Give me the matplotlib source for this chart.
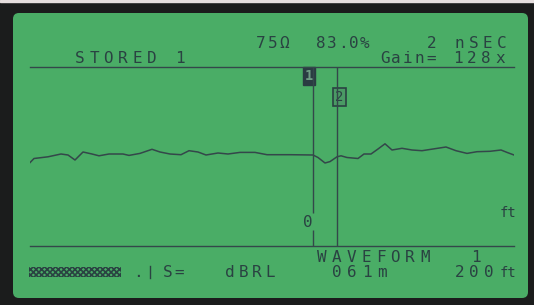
import matplotlib.pyplot as plt
from matplotlib.patches import Rectangle, FancyBboxPatch

# trace: sample position (px from left edge of grid) and level
trace_x = [0, 4, 18, 31, 38, 45, 53, 62, 69, 79, 93, 99, 110, 122, 130, 140, 151, 159,
           168, 176, 188, 198, 210, 225, 237, 260, 283, 288, 295, 300, 307, 311, 317,
           328, 334, 341, 348, 355, 362, 372, 382, 392, 403, 416, 426, 437, 447, 460,
           471, 477, 484]
trace_y = [-7.6, -3.5, -1.8, 1, 0, -5, 3, 1, -0.8, 1, 1, -0.4, 1.6, 5.7, 3, 1, 0.3, 4.3,
           3, 0, 2, 1, 2.6, 2.6, 0.3, 0.3, 0, -2.5, -8, -6.6, -1.8, -0.8, -2.5,
           -3.5, 1, 1, 6, 11.2, 5, 6.7, 5, 4.3, 6, 8, 4.3, 1.6, 3.3, 3.7, 5, 2.6, 0]
cursor_1 = 283
cursor_2 = 307

title_left = "STORED 1"
imp_text = "75Ω"
vop_text = "83.0%"
time_text = "2 nSEC"
gain_label = "Gain="
gain_value = "128x"
mode_text = "WAVEFORM"
mode_num = "1"
bottom_s = "S="
bottom_unit = "dBRL"
bottom_dist = "061m"
bottom_range = "200"

BG = "#4aad66"
INK = "#2a4242"
LINE = "#34474a"

fig = plt.figure(figsize=(5.34, 3.05), dpi=100)
bg = fig.add_axes([0, 0, 1, 1])
bg.set_xlim(0, 534)
bg.set_ylim(305, 0)
bg.axis("off")

bg.add_patch(Rectangle((0, 0), 534, 305, color="#1b1c1c"))
bg.add_patch(Rectangle((0, 0), 534, 2, color="#e6dede"))
bg.add_patch(FancyBboxPatch((17, 17), 507, 277, boxstyle="round,pad=4,rounding_size=6",
                            facecolor=BG, edgecolor="none"))


def lcd(x, y, s, pitch, size=11.5):
    for i, ch in enumerate(s):
        bg.text(x + i * pitch, y, ch, ha="left", va="baseline", color=INK,
                fontsize=size, family="DejaVu Sans Mono")


lcd(75, 63, title_left, 14.3)
lcd(256, 48, imp_text, 11.8)
lcd(316, 48, vop_text, 11.0)
lcd(427, 48, time_text, 14)
lcd(380, 63, gain_label, 11.5)
lcd(453, 63, gain_value, 14)
lcd(317, 262, mode_text, 14.7)
lcd(471, 262, mode_num, 14)
lcd(163, 277, bottom_s, 11)
lcd(225, 277, bottom_unit, 13.5)
lcd(332, 277, bottom_dist, 15)
lcd(455, 277, bottom_range, 14.5)
bg.text(500, 277, "ft", ha="left", va="baseline", color=INK, fontsize=10,
        family="DejaVu Sans Mono")
bg.text(500, 217, "ft", ha="left", va="baseline", color=INK, fontsize=10,
        family="DejaVu Sans Mono")
bg.text(303, 227, "0", ha="left", va="baseline", color=INK, fontsize=11.5,
        family="DejaVu Sans Mono")
bg.text(133, 277, ".", ha="left", va="baseline", color=INK, fontsize=11.5,
        family="DejaVu Sans Mono")
bg.plot([150, 150], [266, 278], color=INK, lw=1)

# dotted level bar
plt.rcParams["hatch.linewidth"] = 1.2
bg.add_patch(Rectangle((29, 267), 92, 10, facecolor="none", edgecolor=INK,
                       hatch="xxxxxx", lw=0))

# marker boxes
bg.text(309, 76, "1", ha="center", va="center", color="#6f9c84", fontsize=10,
        family="DejaVu Sans Mono", fontweight="bold",
        bbox=dict(boxstyle="square,pad=0.15", facecolor="#2a3c42", edgecolor="#2a3c42"))
bg.text(339.5, 97, "2", ha="center", va="center", color=INK, fontsize=10,
        family="DejaVu Sans Mono",
        bbox=dict(boxstyle="square,pad=0.15", facecolor="#4a9a64", edgecolor=INK, lw=1.2))

# plot area
ax = fig.add_axes([30 / 534, (305 - 246) / 305, 484 / 534, 179 / 305])
ax.set_facecolor("none")
ax.set_xlim(0, 484)
ax.set_ylim(-91, 88)
for side in ["left", "right"]:
    ax.spines[side].set_visible(False)
for side in ["top", "bottom"]:
    ax.spines[side].set_color(LINE)
    ax.spines[side].set_linewidth(1.0)
ax.set_xticks([])
ax.set_yticks([])

ax.plot(trace_x, trace_y, color=LINE, lw=1.1)
ax.vlines(cursor_1, -58, 88, color=LINE, lw=1.0)
ax.vlines(cursor_1, -91, -75, color=LINE, lw=1.0)
ax.vlines(cursor_2, -91, 88, color=LINE, lw=1.0)

fig.savefig("out.png", dpi=100)
